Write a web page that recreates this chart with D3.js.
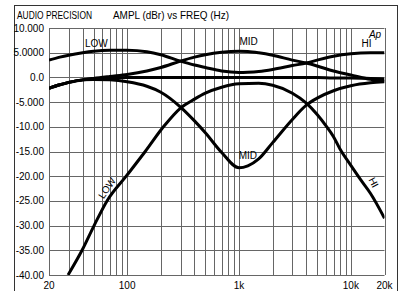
<!DOCTYPE html>
<html>
<head>
<meta charset="utf-8">
<script src="https://cdn.jsdelivr.net/npm/d3@7/dist/d3.min.js"></script>
<style>
  body { margin: 0; background: #fff; }
  svg text { font-family: "Liberation Sans", Arial, sans-serif; fill: #000; }
</style>
</head>
<body>
<svg id="chart"></svg>
<script>
// frequencies (Hz) shared by most curves
var freqs = [20, 25, 30, 40, 50, 70, 100, 150, 200, 300, 400, 500, 700, 1000, 1200, 1500, 2000, 3000, 4000, 5000, 7000, 10000, 15000, 20000];

// LOW + HI boost (valley)
var boostLowHi = [3.5, 4.1, 4.5, 5.0, 5.3, 5.5, 5.5, 5.2, 4.6, 3.3, 2.5, 2.0, 1.3, 1.0, 1.05, 1.2, 1.6, 2.4, 2.9, 3.5, 4.3, 4.8, 5.0, 5.0];
// MID boost (hump)
var boostMid = [-2.2, -1.5, -1.0, -0.5, -0.2, 0.2, 0.6, 1.3, 2.0, 3.3, 4.1, 4.6, 5.1, 5.3, 5.25, 5.0, 4.5, 3.5, 2.9, 2.3, 1.3, 0.5, -0.4, -0.8];
// flat
var flat = [-2.2, -1.5, -1.0, -0.5, -0.3, -0.1, 0, 0, 0, 0, 0, 0, 0, 0, 0, 0, 0, 0, 0, 0, -0.1, -0.1, -0.2, -0.3];
// MID cut (notch)
var cutMid = [-2.2, -1.5, -1.0, -0.5, -0.4, -0.5, -0.9, -1.8, -3.0, -6.0, -8.8, -11.2, -15.2, -18.3, -17.9, -16.5, -13.2, -8.5, -5.6, -4.2, -2.7, -1.7, -1.1, -0.9];
// LOW + HI cut (hill)
var cutFreqs = [29.6, 39.5, 50.6, 66, 98, 145, 211, 300, 400, 500, 700, 1000, 1500, 2000, 3000, 4000, 5000, 6000, 7000, 8000, 10000, 12500, 15000, 20000];
var cutLowHi = [-40, -35, -30, -25, -20, -15, -10, -6.2, -4.4, -3.2, -2.0, -1.3, -1.2, -1.6, -3.2, -5.2, -7.5, -9.8, -12, -14.5, -17.8, -21, -23.5, -28.5];

var xTicks = [20, 100, 1000, 10000, 20000];
var xTickLabels = ["20", "100", "1k", "10k", "20k"];
var yTicks = [10, 5, 0, -5, -10, -15, -20, -25, -30, -35, -40];
var yTickLabels = ["10.000", "5.0000", "0.0", "-5.000", "-10.00", "-15.00", "-20.00", "-25.00", "-30.00", "-35.00", "-40.00"];

var width = 399, height = 291;
var svg = d3.select("#chart").attr("width", width).attr("height", height);

var x = d3.scaleLog().domain([20, 20000]).range([49, 384.5]);
var y = d3.scaleLinear().domain([-40, 10]).range([275, 28]);

// outer frame
svg.append("rect")
  .attr("x", 14.5).attr("y", 5.5)
  .attr("width", 383).attr("height", 300)
  .attr("fill", "none").attr("stroke", "#333").attr("stroke-width", 1);

// titles
svg.append("text").attr("x", 17).attr("y", 19)
  .style("font-size", "10.5px").attr("textLength", 75).attr("lengthAdjust", "spacingAndGlyphs")
  .text("AUDIO PRECISION");
svg.append("text").attr("x", 113).attr("y", 19)
  .style("font-size", "10.5px").attr("textLength", 116).attr("lengthAdjust", "spacingAndGlyphs")
  .text("AMPL (dBr) vs FREQ (Hz)");

// grid
var gridFreqs = [];
[10, 100, 1000, 10000].forEach(function(d) {
  for (var k = 1; k <= 9; k++) {
    var f = d * k;
    if (f >= 20 && f <= 20000) gridFreqs.push(f);
  }
});
gridFreqs.push(20000);

svg.selectAll("line.vgrid")
  .data(gridFreqs)
  .enter()
  .append("line")
  .attr("class", "vgrid")
  .attr("x1", function(d) { return Math.round(x(d)) + 0.5; })
  .attr("x2", function(d) { return Math.round(x(d)) + 0.5; })
  .attr("y1", y(10)).attr("y2", y(-40))
  .attr("stroke", "#666").attr("stroke-width", 1);

svg.selectAll("line.hgrid")
  .data(yTicks)
  .enter()
  .append("line")
  .attr("class", "hgrid")
  .attr("x1", x(20)).attr("x2", x(20000))
  .attr("y1", function(d) { return Math.round(y(d)) + 0.5; })
  .attr("y2", function(d) { return Math.round(y(d)) + 0.5; })
  .attr("stroke", "#666").attr("stroke-width", 1);

// tick labels
svg.selectAll("text.ylab")
  .data(yTicks)
  .enter()
  .append("text")
  .attr("class", "ylab")
  .attr("x", 44)
  .attr("y", function(d) { return y(d) + 3.5; })
  .attr("text-anchor", "end")
  .style("font-size", "10px")
  .text(function(d, i) { return yTickLabels[i]; });

svg.selectAll("text.xlab")
  .data(xTicks)
  .enter()
  .append("text")
  .attr("class", "xlab")
  .attr("x", function(d) { return x(d); })
  .attr("y", 289)
  .attr("text-anchor", "middle")
  .style("font-size", "10px")
  .text(function(d, i) { return xTickLabels[i]; });

// curves
var line = d3.line()
  .x(function(d) { return x(d[0]); })
  .y(function(d) { return y(d[1]); })
  .curve(d3.curveMonotoneX);

var series = [
  d3.zip(freqs, boostLowHi),
  d3.zip(freqs, boostMid),
  d3.zip(freqs, flat),
  d3.zip(freqs, cutMid),
  d3.zip(cutFreqs, cutLowHi)
];

svg.append("defs").append("clipPath").attr("id", "plot")
  .append("rect").attr("x", x(20)).attr("y", y(10))
  .attr("width", x(20000) - x(20)).attr("height", y(-40) - y(10));

svg.append("g").attr("clip-path", "url(#plot)")
  .selectAll("path")
  .data(series)
  .enter()
  .append("path")
  .attr("d", line)
  .attr("fill", "none")
  .attr("stroke", "#000")
  .attr("stroke-width", 3)
  .attr("stroke-linejoin", "round");

// curve labels
function label(txt, f, db, rot) {
  svg.append("text")
    .attr("transform", "translate(" + x(f) + "," + y(db) + ") rotate(" + (rot || 0) + ")")
    .attr("text-anchor", "middle")
    .style("font-size", "10px")
    .text(txt);
}
label("LOW", 53, 6.2);
label("MID", 1220, 6.6);
label("HI", 13800, 6.2);
label("MID", 1200, -16.6);
label("LOW", 70, -22.8, -56);
label("HI", 15000, -21.6, 62);

svg.append("text")
  .attr("x", x(14500)).attr("y", 38)
  .style("font-size", "10px").style("font-style", "italic")
  .text("Ap");
</script>
</body>
</html>
